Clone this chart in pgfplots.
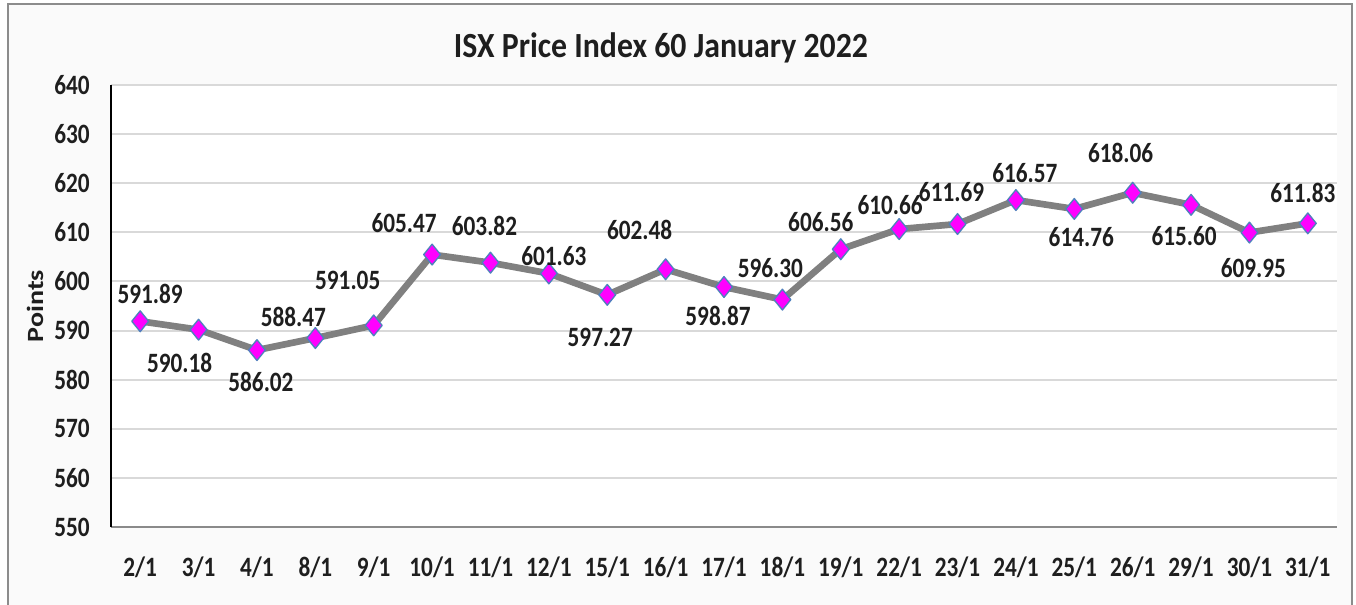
\documentclass[border=0pt]{standalone}
\usepackage{fontspec}
\setmainfont{Carlito}[FakeStretch=0.83]
\newfontfamily\plainfont{Carlito}
\newfontfamily\titlefont{Carlito}[FakeStretch=0.9]
\usepackage{pgfplots}
\pgfplotsset{compat=1.18}
\usepackage{pgfplotstable}
\definecolor{gridc}{HTML}{D9D9D9}
\definecolor{linec}{HTML}{808080}
\definecolor{mag}{HTML}{FF00FF}
\definecolor{mkedge}{HTML}{4F81BD}
\definecolor{framec}{HTML}{8C8C8C}
\definecolor{bgc}{HTML}{FAFAFA}
\definecolor{txt}{HTML}{1E1E1E}
\definecolor{xaxc}{HTML}{8A8A8A}

\pgfplotstableread{
x y dx up
0 591.89 10 27
1 590.18 -19 -33
2 586.02 4 -32
3 588.47 -22 21
4 591.05 -26 45
5 605.47 -28 32
6 603.82 -6 37
7 601.63 5 17
8 597.27 -7 -43
9 602.48 -26 39
10 598.87 -6 -29
11 596.30 -12 32
12 606.56 -20 27
13 610.66 -9 24
14 611.69 -6 32
15 616.57 9 27
16 614.76 7 -28
17 618.06 -12 40
18 615.60 -7 -31
19 609.95 4 -35
20 611.83 -5 30
}\data

\def\u{0.75pt}
\newcommand{\lblfont}{\fontsize{21}{21}\selectfont\bfseries}

\begin{document}
\begin{tikzpicture}
\useasboundingbox (0,0) rectangle (1356*\u,604*\u);
\fill[bgc] (8*\u,-6*\u) rectangle (1352*\u,600*\u);
\draw[framec, line width=1.5pt] (8*\u,-6*\u) rectangle (1352*\u,600*\u);
\begin{axis}[
  at={(111*\u,77*\u)}, anchor=south west,
  scale only axis, width=1226*\u, height=442*\u,
  xmin=-0.5, xmax=20.5, ymin=550, ymax=640,
  axis x line*=bottom, axis y line*=left,
  x axis line style={draw=xaxc, line width=1.5pt},
  y axis line style={draw=black, line width=1.5pt},
  axis background/.style={fill=white},
  ytick={550,560,...,640},
  xtick={0,...,20},
  xticklabels={2/1,3/1,4/1,8/1,9/1,10/1,11/1,12/1,15/1,16/1,17/1,18/1,19/1,22/1,23/1,24/1,25/1,26/1,29/1,30/1,31/1},
  major tick length=0pt,
  ymajorgrids, grid style={gridc, line width=1.5pt},
  tick label style={font=\lblfont, text=txt},
  /pgf/number format/assume math mode=true,
  yticklabel style={anchor=east, inner sep=0pt, xshift=-21*\u},
  xticklabel style={anchor=center, inner sep=0pt, yshift=-40*\u},
  clip=false,
]
\addplot[linec, line width=5pt, line join=round, mark=diamond*, mark size=7.8pt,
  mark options={fill=mag, draw=mkedge, line width=1pt, solid, xscale=1.08},
  nodes near coords, point meta=explicit symbolic,
  visualization depends on={\thisrow{dx} \as \lblx},
  visualization depends on={\thisrow{up} \as \lbly},
  every node near coord/.append style={anchor=center, inner sep=0pt,
     xshift=\lblx*0.75pt, yshift=\lbly*0.75pt, font=\lblfont, text=txt},
] table[x=x, y=y, meta=y] {\data};
\end{axis}
\node[font=\titlefont\bfseries\fontsize{26.5}{26.5}\selectfont, text=txt] at (661*\u,556*\u) {ISX Price Index 60 January 2022};
\node[rotate=90, font=\plainfont\bfseries\fontsize{21}{21}\selectfont, text=txt, inner sep=0pt] at (35*\u,298*\u) {\scalebox{1}[0.83]{Points}};
\end{tikzpicture}
\end{document}
